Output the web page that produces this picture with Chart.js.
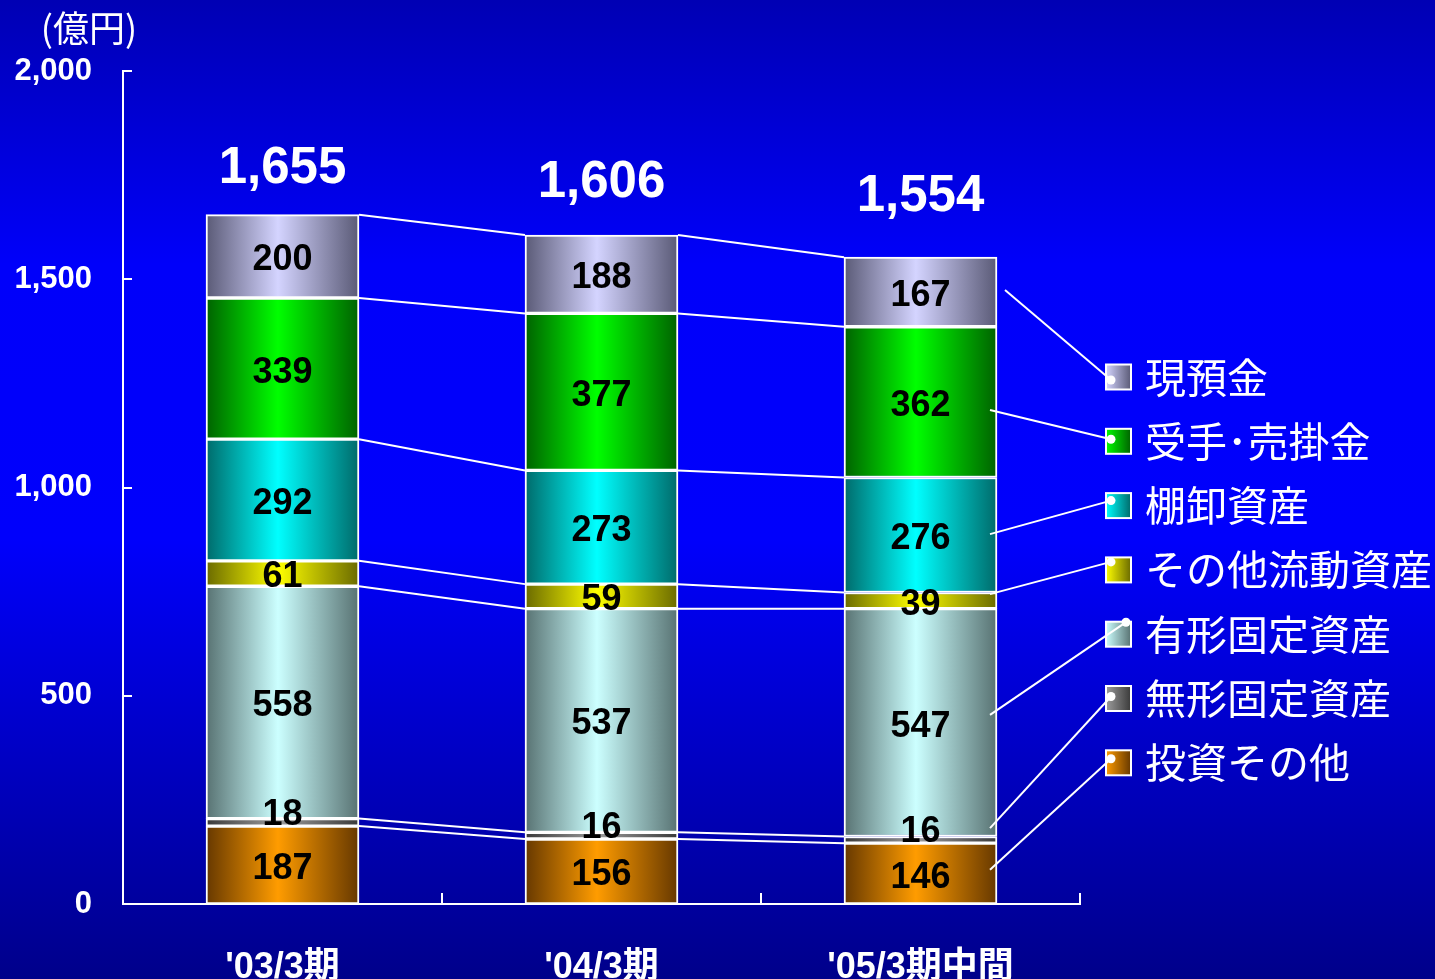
<!DOCTYPE html>
<html>
<head>
<meta charset="utf-8">
<script src="https://cdn.jsdelivr.net/npm/chart.js@4/dist/chart.umd.min.js"></script>
<style>
  html, body { margin: 0; padding: 0; background: #0000c0; overflow: hidden; }
  #wrap { width: 1435px; height: 979px; position: relative; }
</style>
</head>
<body>
<div id="wrap"><canvas id="c" width="1435" height="979"></canvas></div>
<script>
// ---- data ----
const categories = ["'03/3期", "'04/3期", "'05/3期中間"];
const investOther = [187, 156, 146];     // 投資その他
const intangible = [18, 16, 16];         // 無形固定資産
const tangible = [558, 537, 547];        // 有形固定資産
const otherCurrent = [61, 59, 39];       // その他流動資産
const inventory = [292, 273, 276];       // 棚卸資産
const receivables = [339, 377, 362];     // 受手･売掛金
const cash = [200, 188, 167];            // 現預金
const totals = [1655, 1606, 1554];
const yTicks = [0, 500, 1000, 1500, 2000];
const unitLabel = '(億円)';

const seriesNames = ['投資その他', '無形固定資産', '有形固定資産', 'その他流動資産', '棚卸資産', '受手･売掛金', '現預金'];
const seriesValues = [investOther, intangible, tangible, otherCurrent, inventory, receivables, cash];

// ---- styles ----
const seriesColors = [
  ['#663800', '#ff9c00'],
  ['#3a3a3a', '#9c9c9c'],
  ['#587272', '#ccffff'],
  ['#6a6a00', '#ffff00'],
  ['#006a6a', '#00ffff'],
  ['#006200', '#00ff00'],
  ['#5a5a76', '#d4d4ff']
];
const NUM_FONT = "'Liberation Sans', Arial, sans-serif";
const CJK_FONT = "'Liberation Sans', 'Noto Sans CJK JP', sans-serif";
const BAR_W = 153;

function fmt(v) { return v.toLocaleString('en-US'); }

function barGradient(ctx, si) {
  const c = ctx.chart;
  const xs = c.scales && c.scales.x;
  const cols = seriesColors[si];
  if (!xs || ctx.type !== 'data' || xs.width === undefined) return cols[1];
  const cx = xs.getPixelForValue(ctx.dataIndex);
  const g = c.ctx.createLinearGradient(cx - BAR_W / 2, 0, cx + BAR_W / 2, 0);
  g.addColorStop(0, cols[0]);
  g.addColorStop(0.47, cols[1]);
  g.addColorStop(1, cols[0]);
  return g;
}

const datasets = seriesNames.map((name, si) => ({
  label: name,
  data: seriesValues[si],
  backgroundColor: (ctx) => barGradient(ctx, si),
  borderColor: '#ffffff',
  borderWidth: 2,
  borderSkipped: false,
  barThickness: BAR_W
}));

// leader-line anchors on the last bar (data units) and legend dot placement
const leaderAnchorValues = [82, 182, 454, 744, 888, 1186, 1474];
const leaderAnchorDx = [-7, -7, -7, -7, -7, -7, 8];
const legendDotPos = [[5, -4], [5, -2], [20, -12], [5, -8], [5, -5], [5, -2], [5, 3]];

const decorPlugin = {
  id: 'decor',
  beforeDraw(chart) {
    const ctx = chart.ctx;
    const g = ctx.createLinearGradient(0, 0, 0, chart.height);
    g.addColorStop(0, '#0000b4');
    g.addColorStop(0.27, '#0000fa');
    g.addColorStop(0.55, '#0000fc');
    g.addColorStop(1, '#00008a');
    ctx.save();
    ctx.fillStyle = g;
    ctx.fillRect(0, 0, chart.width, chart.height);
    ctx.restore();
  },
  afterDraw(chart) {
    const ctx = chart.ctx;
    const xs = chart.scales.x, ys = chart.scales.y;
    const area = chart.chartArea;
    ctx.save();

    // inner axis ticks
    ctx.strokeStyle = '#ffffff';
    ctx.lineWidth = 2;
    ctx.beginPath();
    yTicks.forEach(v => {
      const y = Math.round(ys.getPixelForValue(v));
      ctx.moveTo(area.left, y); ctx.lineTo(area.left + 9, y);
    });
    for (let i = 1; i <= categories.length; i++) {
      const x = Math.round(area.left + (area.right - area.left) * i / categories.length);
      ctx.moveTo(x, area.bottom); ctx.lineTo(x, area.bottom - 11);
    }
    ctx.stroke();

    // connecting lines between bars
    ctx.beginPath();
    chart.data.datasets.forEach((ds, di) => {
      const meta = chart.getDatasetMeta(di);
      for (let i = 0; i < meta.data.length - 1; i++) {
        const a = meta.data[i], b = meta.data[i + 1];
        ctx.moveTo(a.x + a.width / 2, a.y);
        ctx.lineTo(b.x - b.width / 2, b.y);
      }
    });
    ctx.stroke();

    // segment labels
    ctx.fillStyle = '#000000';
    ctx.font = 'bold 36px ' + NUM_FONT;
    ctx.textAlign = 'center';
    ctx.textBaseline = 'middle';
    chart.data.datasets.forEach((ds, di) => {
      const meta = chart.getDatasetMeta(di);
      meta.data.forEach((el, i) => {
        let y = (el.y + el.base) / 2 + 4;
        if (ds.data[i] < 30) y = el.y - 4;
        ctx.fillText(fmt(ds.data[i]), el.x, y);
      });
    });

    // totals
    ctx.fillStyle = '#ffffff';
    ctx.font = 'bold 51px ' + NUM_FONT;
    const topMeta = chart.getDatasetMeta(chart.data.datasets.length - 1);
    totals.forEach((t, i) => {
      const el = topMeta.data[i];
      const top = ys.getPixelForValue(t);
      ctx.fillText(fmt(t), el.x, top - 0.325 * (top - area.top) + 1);
    });

    // unit label
    ctx.font = "36px 'Noto Sans CJK JP', sans-serif";
    ctx.fillText(unitLabel, 89, 28);

    // legend with leader lines
    const lastIdx = categories.length - 1;
    const rowX = area.right + 26;
    const rowTop = 377, rowStep = 64.3, box = 25;
    const n = seriesNames.length;
    for (let k = 0; k < n; k++) {
      const si = n - 1 - k; // top row = last dataset
      const cy = rowTop + k * rowStep;
      const el = chart.getDatasetMeta(si).data[lastIdx];
      // marker
      const cols = seriesColors[si];
      const mg = ctx.createLinearGradient(rowX, 0, rowX + box, 0);
      mg.addColorStop(0, cols[1]);
      mg.addColorStop(1, cols[0]);
      ctx.fillStyle = mg;
      ctx.fillRect(rowX, cy - box / 2, box, box);
      ctx.strokeStyle = '#ffffff';
      ctx.lineWidth = 2;
      ctx.strokeRect(rowX, cy - box / 2, box, box);
      // leader
      const ax = el.x + el.width / 2 + leaderAnchorDx[si];
      const ay = ys.getPixelForValue(leaderAnchorValues[si]);
      const dx = rowX + legendDotPos[si][0], dy = cy + legendDotPos[si][1];
      ctx.beginPath();
      ctx.moveTo(ax, ay);
      ctx.lineTo(dx, dy);
      ctx.stroke();
      ctx.fillStyle = '#ffffff';
      ctx.beginPath();
      ctx.arc(dx, dy, 4.5, 0, Math.PI * 2);
      ctx.fill();
      // text
      ctx.font = "41px 'Noto Sans CJK JP', sans-serif";
      ctx.textAlign = 'left';
      ctx.fillText(seriesNames[si], rowX + 39, cy);
      ctx.textAlign = 'center';
    }
    ctx.restore();
  }
};

new Chart(document.getElementById('c'), {
  type: 'bar',
  data: { labels: categories, datasets },
  options: {
    responsive: false,
    animation: false,
    events: [],
    layout: { padding: { top: 71, right: 355, left: 0, bottom: 0 } },
    plugins: { legend: { display: false }, tooltip: { enabled: false } },
    scales: {
      x: {
        stacked: true,
        offset: true,
        grid: { display: false },
        border: { display: true, color: '#ffffff', width: 2 },
        ticks: { color: '#ffffff', font: { family: CJK_FONT, size: 36, weight: 'bold' }, padding: 34, maxRotation: 0, autoSkip: false },
        afterFit: (s) => { s.height = 75; }
      },
      y: {
        stacked: true,
        min: 0,
        max: 2000,
        afterBuildTicks: (s) => { s.ticks = yTicks.map(v => ({ value: v })); },
        grid: { display: false, drawTicks: false },
        border: { display: true, color: '#ffffff', width: 2 },
        ticks: { color: '#ffffff', font: { family: NUM_FONT, size: 31, weight: 'bold' }, padding: 31, callback: (v) => fmt(v) },
        afterFit: (s) => { s.width = 123; }
      }
    }
  },
  plugins: [decorPlugin]
});
</script>
</body>
</html>
